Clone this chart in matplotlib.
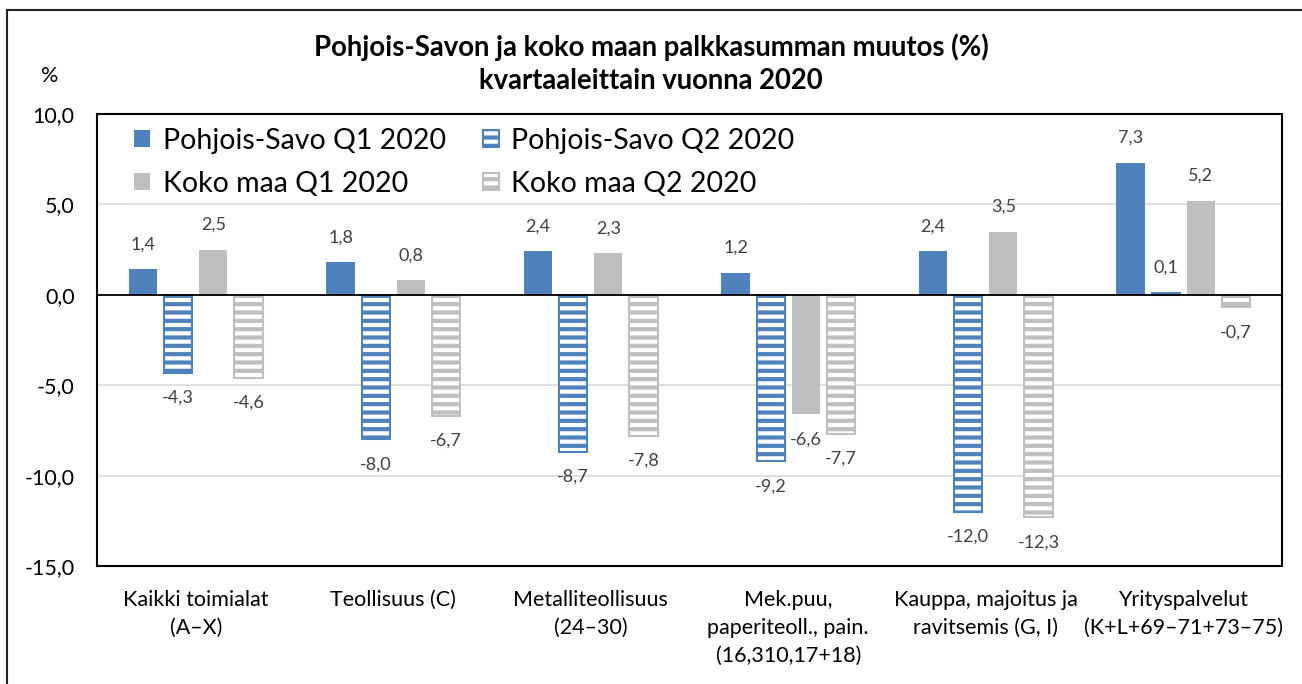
import numpy as np
import matplotlib
matplotlib.use("Agg")
import matplotlib.pyplot as plt
from matplotlib.patches import Rectangle

plt.rcParams['font.family'] = ['Lato', 'DejaVu Sans']
plt.rcParams['hatch.linewidth'] = 3.0

categories = ["Kaikki toimialat\n(A\u2013X)", "Teollisuus (C)",
              "Metalliteollisuus\n(24\u201330)",
              "Mek.puu,\npaperiteoll., pain.\n(16,310,17+18)",
              "Kauppa, majoitus ja\nravitsemis (G, I)",
              "Yrityspalvelut\n(K+L+69\u201371+73\u201375)"]
ps_q1 = [1.4, 1.8, 2.4, 1.2, 2.4, 7.3]
ps_q2 = [-4.3, -8.0, -8.7, -9.2, -12.0, 0.1]
km_q1 = [2.5, 0.8, 2.3, -6.6, 3.5, 5.2]
km_q2 = [-4.6, -6.7, -7.8, -7.7, -12.3, -0.7]
yticks = [-15, -10, -5, 0, 5, 10]

blue = "#4F81BD"
gray = "#BFBFBF"

fig = plt.figure(figsize=(13.02, 6.84), dpi=100)
ax = fig.add_axes([97 / 1302, 1 - 566 / 684, (1282 - 97) / 1302, (566 - 114) / 684])

# outer chart border (runs off right/bottom edge like the source)
fig.patches.append(Rectangle((7 / 1302, -0.1), 1.2, 1 - 10 / 684 + 0.1,
                             transform=fig.transFigure, fill=False,
                             edgecolor="#222222", linewidth=1.5))

x = np.arange(len(categories))
step = 0.178
width = 0.142
series = [
    (ps_q1, blue, False, "Pohjois-Savo Q1 2020"),
    (ps_q2, blue, True, "Pohjois-Savo Q2 2020"),
    (km_q1, gray, False, "Koko maa Q1 2020"),
    (km_q2, gray, True, "Koko maa Q2 2020"),
]
handles = {}
for i, (vals, col, hatched, name) in enumerate(series):
    pos = x + (i - 1.5) * step
    if hatched:
        bars = ax.bar(pos, vals, width, facecolor="white", edgecolor=col,
                      hatch="--", linewidth=1.5, zorder=3)
    else:
        bars = ax.bar(pos, vals, width, color=col, zorder=3)
    handles[name] = bars
    for p, v in zip(pos, vals):
        off = 18 if v >= 0 else -18
        ax.annotate(f"{v:.1f}".replace(".", ","), (p, v), xytext=(0, off),
                    textcoords="offset points", ha="center", va="center",
                    fontsize=13, color="#404040")

ax.axhline(0, color="black", linewidth=1.3, zorder=4)
ax.set_ylim(-15, 10)
ax.set_xlim(-0.5, len(categories) - 0.5)
ax.set_yticks(yticks)
ax.set_yticklabels([f"{t:.1f}".replace(".", ",") for t in yticks], fontsize=15.5)
ax.set_xticks(x)
ax.set_xticklabels(categories, fontsize=15.5, linespacing=1.5)
ax.tick_params(axis="x", length=0, pad=17)
ax.tick_params(axis="y", length=0, pad=16)
ax.yaxis.grid(True, color="#D9D9D9", linewidth=1.2, zorder=0)
ax.set_axisbelow(True)
for s in ax.spines.values():
    s.set_linewidth(1.5)
    s.set_color("black")

order = ["Pohjois-Savo Q1 2020", "Koko maa Q1 2020",
         "Pohjois-Savo Q2 2020", "Koko maa Q2 2020"]
leg = ax.legend([handles[n] for n in order], order, ncol=2, loc="upper left",
                bbox_to_anchor=(0.02, 1.0), frameon=True, fancybox=False,
                edgecolor="white", framealpha=1, fontsize=20.5,
                handlelength=0.55, handleheight=0.55, handletextpad=0.45,
                columnspacing=1.3, borderaxespad=0.28, borderpad=0.2,
                labelspacing=0.6)
leg.set_zorder(5)

fig.text(50 / 1302, 1 - 76 / 684, "%", fontsize=15.5, ha="center", va="center")
fig.text(0.5, 1 - 47 / 684, "Pohjois-Savon ja koko maan palkkasumman muutos (%)",
         fontsize=19.8, fontweight="bold", ha="center", va="center")
fig.text(0.5, 1 - 81 / 684, "kvartaaleittain vuonna 2020",
         fontsize=19.8, fontweight="bold", ha="center", va="center")

fig.savefig("out.png", dpi=100)
